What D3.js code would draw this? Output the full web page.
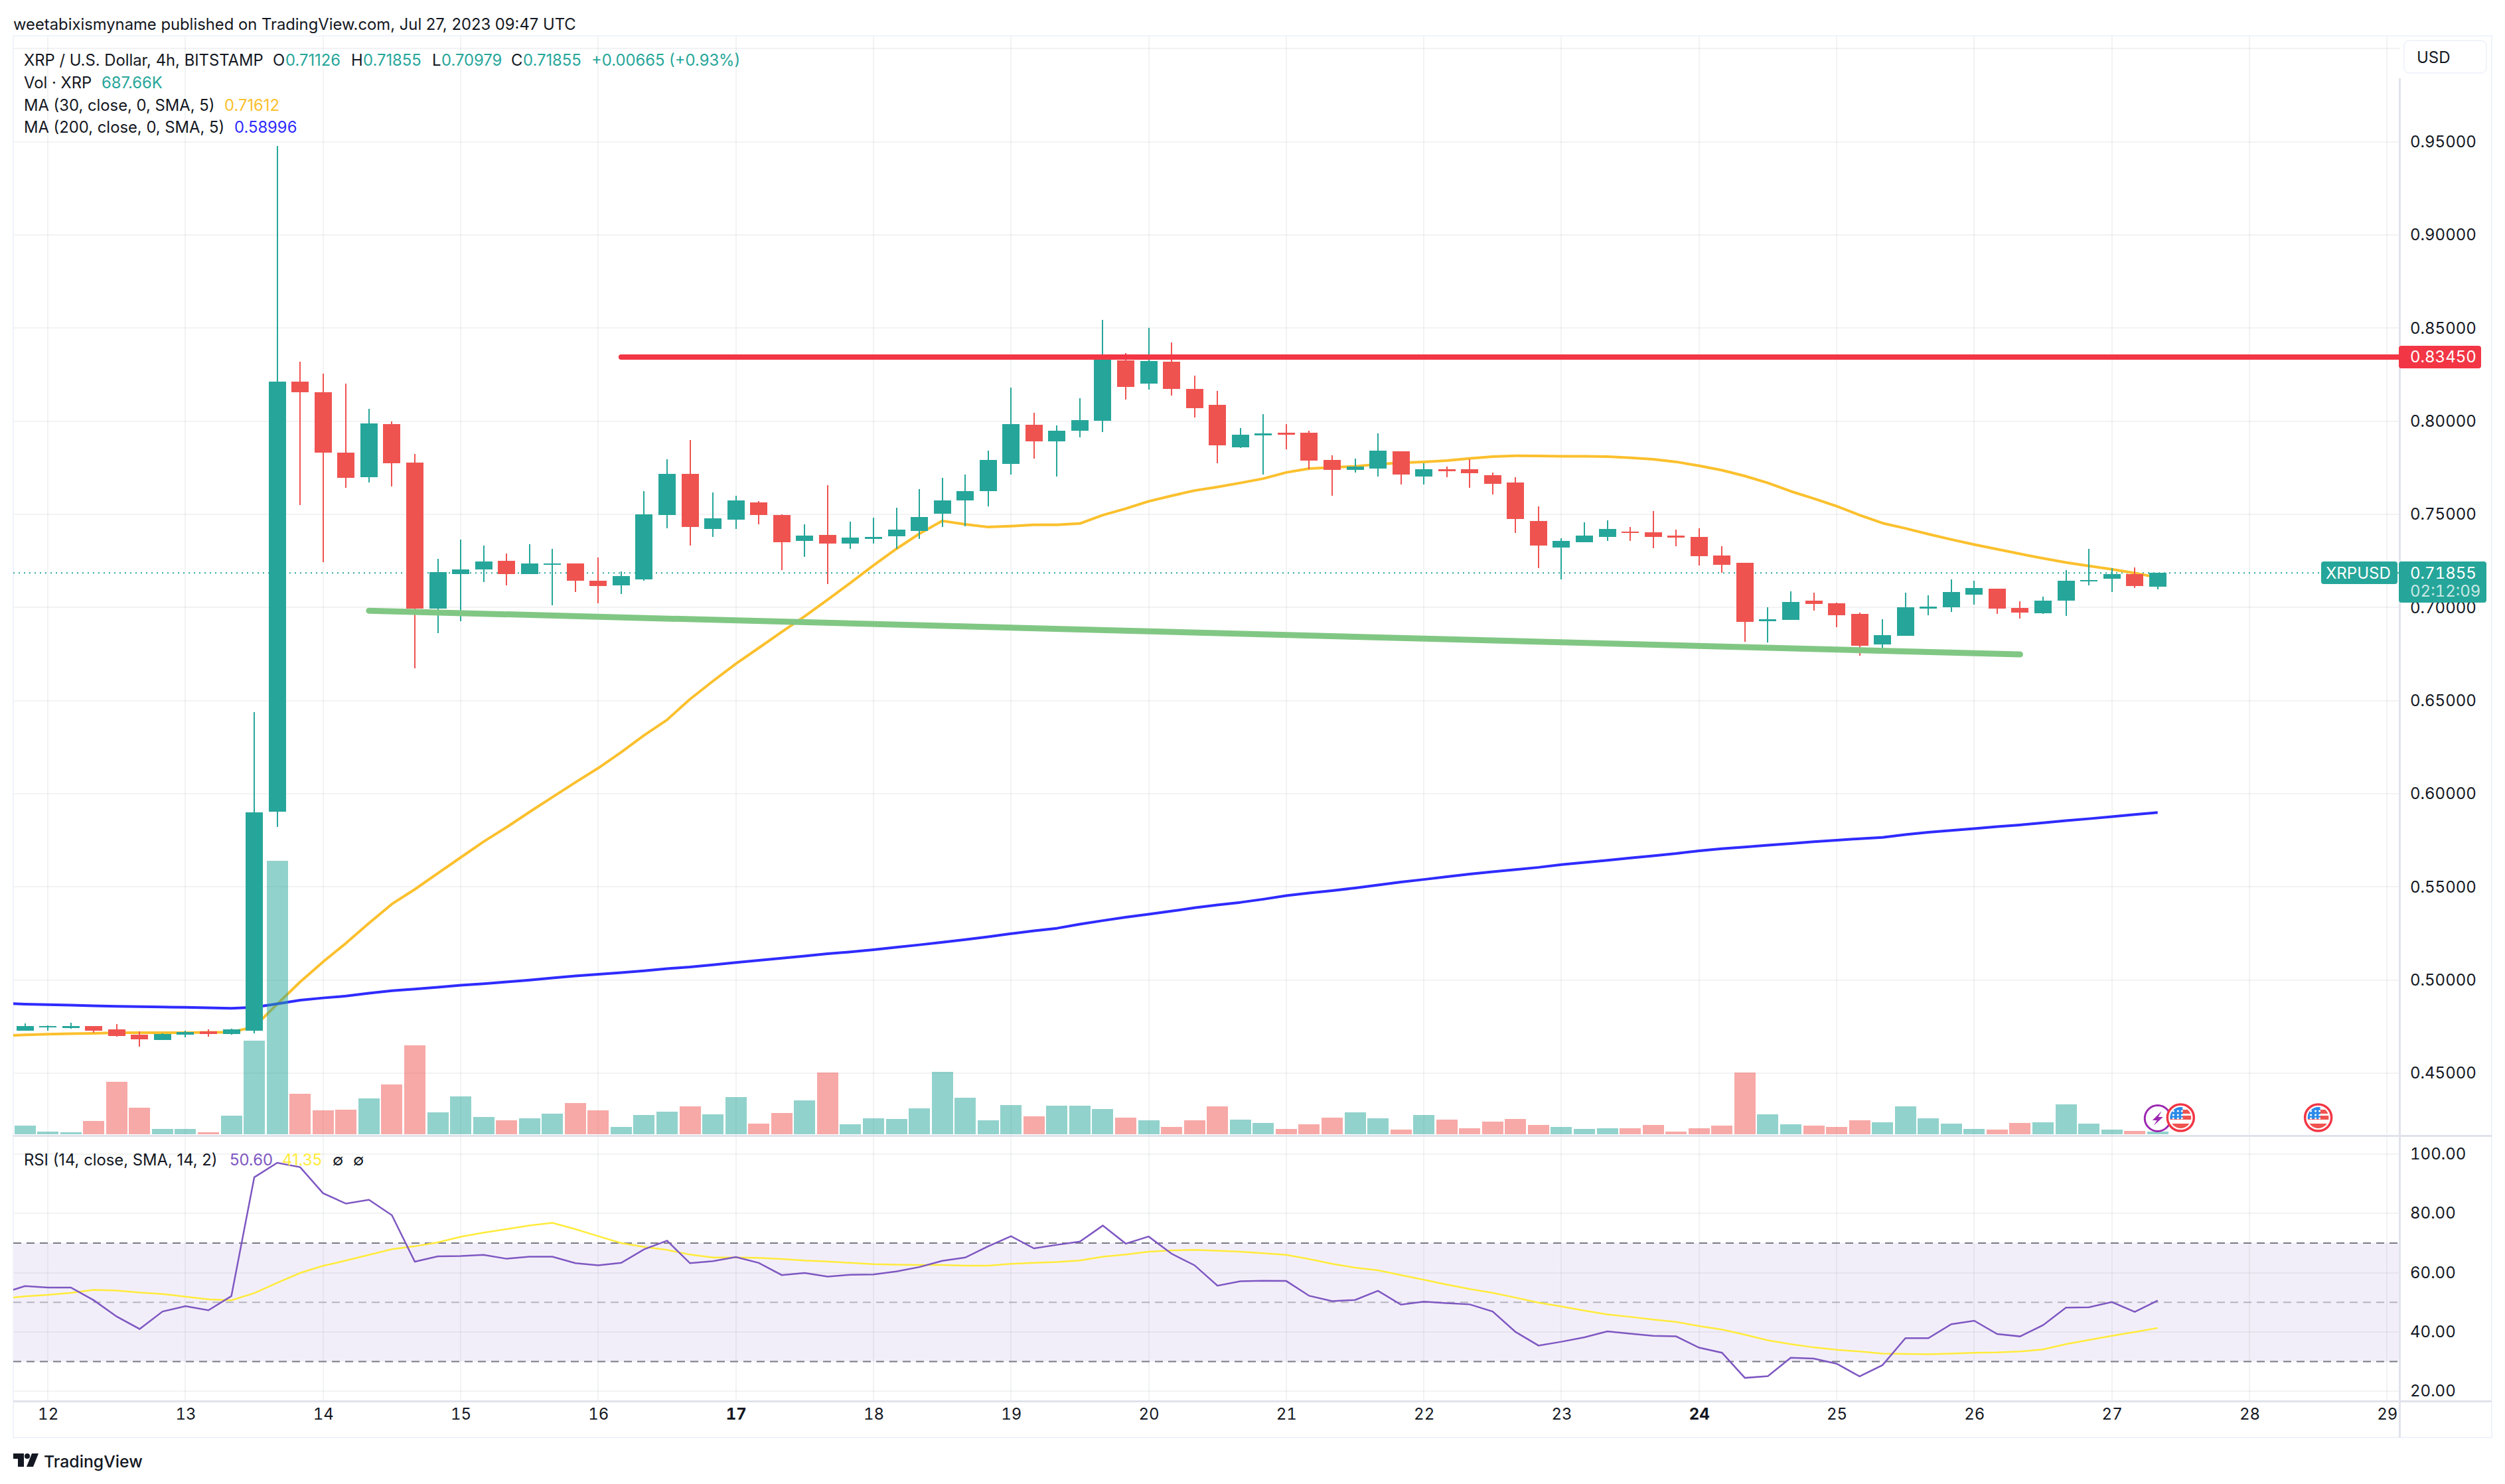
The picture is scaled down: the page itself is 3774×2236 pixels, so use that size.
<!DOCTYPE html>
<html>
<head>
<meta charset="utf-8">
<title>XRP / U.S. Dollar, 4h</title>
<script src="https://cdn.jsdelivr.net/npm/d3@7"></script>
<style>
    html, body { margin: 0; padding: 0; background: #fff; }
    svg { display: block; }
    text { font-family: Inter, "Noto Sans", sans-serif; fill: #131722; }
    .tabular, .tick text { font-variant-numeric: tabular-nums; }
</style>
</head>
<body>
<div id="chart"></div>
<script>
// 4h bars, left to right
const opens = [.4729,.4749,.4743,.4754,.4734,.4706,.4678,.4706,.4723,.4709,
    .4729,.5905,.8213,.8156,.7832,.7698,.7985,.7778,.6993,.7178,
    .7204,.7252,.7178,.7229,.7235,.7144,.7118,.7151,.7496,.7717,
    .7421,.7471,.7564,.7496,.7357,.7390,.7343,.7368,.7381,.7410,
    .7503,.7575,.7624,.7770,.7980,.7891,.7949,.8002,.8327,.8201,
    .8320,.8174,.8088,.7860,.7924,.7938,.7938,.7792,.7739,.7746,
    .7838,.7703,.7742,.7742,.7710,.7671,.7465,.7321,.7350,.7379,
    .7407,.7403,.7385,.7379,.7279,.7240,.6926,.6933,.7036,.7022,
    .6965,.6801,.6847,.6994,.7001,.7068,.7100,.6997,.6969,.7036,
    .7140,.7154,.7179,.71126];
const closes = [.4754,.4754,.4754,.4729,.4700,.4680,.4712,.4720,.4709,.4734,
    .5902,.8213,.8156,.7832,.7695,.7988,.7775,.6993,.7190,.7204,
    .7246,.7178,.7235,.7238,.7144,.7116,.7169,.7500,.7717,.7432,
    .7478,.7575,.7496,.7350,.7385,.7343,.7375,.7379,.7418,.7485,
    .7575,.7624,.7792,.7984,.7891,.7949,.8006,.8351,.8183,.8322,
    .8174,.8070,.7870,.7927,.7934,.7927,.7788,.7739,.7756,.7842,
    .7713,.7742,.7732,.7721,.7664,.7474,.7332,.7357,.7385,.7421,
    .7399,.7379,.7375,.7275,.7229,.6922,.6937,.7029,.7019,.6958,
    .6794,.6851,.7001,.7004,.7083,.7104,.6994,.6972,.7036,.7143,
    .7147,.7179,.7115,.71855];
const highs = [.4766,.4757,.4771,.4754,.4763,.4723,.4714,.4729,.4734,.4737,
    .6437,.9478,.8321,.8255,.8201,.8065,.7999,.7823,.7261,.7363,
    .7332,.7289,.7340,.7315,.7235,.7269,.7192,.7624,.7796,.7898,
    .7617,.7600,.7571,.7501,.7445,.7657,.7461,.7482,.7535,.7635,
    .7695,.7713,.7842,.8181,.8046,.7977,.8123,.8543,.8366,.8501,
    .8423,.8245,.8163,.7962,.8037,.7984,.7949,.7816,.7799,.7934,
    .7838,.7774,.7756,.7796,.7724,.7699,.7542,.7372,.7456,.7467,
    .7432,.7518,.7418,.7425,.7328,.7240,.7001,.7086,.7079,.7026,
    .6972,.6937,.7079,.7065,.7150,.7143,.7100,.7033,.7058,.7200,
    .7314,.7211,.7214,.71855];
const lows = [.4729,.4729,.4740,.4717,.4695,.4643,.4678,.4692,.4697,.4706,
    .4714,.5823,.7550,.7243,.7644,.7670,.7650,.6672,.6863,.6925,
    .7136,.7118,.7178,.7013,.7082,.7022,.7072,.7144,.7425,.7332,
    .7379,.7421,.7445,.7200,.7271,.7125,.7315,.7343,.7315,.7368,
    .7432,.7437,.7542,.7713,.7799,.7703,.7913,.7942,.8117,.8170,
    .8137,.8020,.7774,.7856,.7713,.7849,.7742,.7600,.7724,.7703,
    .7660,.7660,.7699,.7642,.7606,.7399,.7211,.7151,.7350,.7357,
    .7357,.7317,.7328,.7225,.7186,.6815,.6812,.6933,.6983,.6894,
    .6741,.6776,.6847,.6958,.6976,.7015,.6965,.6940,.6965,.6954,
    .7118,.7083,.7104,.70979];
// volume in millions of XRP
const volumes = [2.32,.69,.52,3.61,14.4,7.3,1.46,1.46,.52,5.07,
    25.8,75.4,11.2,6.5,6.8,9.9,13.7,24.5,6.0,10.4,
    4.7,3.8,4.4,5.7,8.6,6.5,2.1,5.3,6.2,7.6,
    5.5,10.2,2.9,5.8,9.3,17.0,2.7,4.4,4.2,7.1,
    17.2,10.1,3.8,8.0,4.9,7.8,7.8,7.0,4.6,3.8,
    2.1,3.8,7.6,4.0,3.1,1.46,2.7,4.6,6.0,4.4,
    1.3,5.3,4.0,1.6,3.4,4.2,2.6,2.1,1.46,1.6,
    1.6,2.6,.7,1.6,2.3,17.0,5.5,2.7,2.3,2.1,
    3.8,3.3,7.6,4.4,2.9,1.46,1.3,3.1,3.3,8.2,
    2.9,1.3,.86,.688];

// the line series start one bar earlier, left of the visible pane
const ma30 = [.4700,.4706,.4709,.4712,.4714,.4717,.4717,.4717,.4717,.4719,.4720,
    .4749,.4871,.4990,.5098,.5198,.5305,.5408,.5487,.5573,.5658,
    .5743,.5820,.5902,.5982,.6061,.6138,.6223,.6314,.6397,.6508,
    .6605,.6698,.6783,.6869,.6953,.7042,.7133,.7226,.7315,.7396,
    .7465,.7447,.7432,.7437,.7444,.7444,.7451,.7496,.7531,.7570,
    .7600,.7628,.7647,.7669,.7692,.7725,.7746,.7752,.7758,.7769,
    .7777,.7782,.7789,.7800,.7810,.7815,.7814,.7812,.7812,.7810,
    .7804,.7796,.7782,.7761,.7737,.7706,.7669,.7624,.7585,.7544,
    .7496,.7453,.7425,.7394,.7365,.7338,.7313,.7288,.7264,.7242,
    .7223,.7205,.7185,.71612];
const ma200 = [.4875,.4871,.4868,.4865,.4862,.4859,.4857,.4855,.4854,.4851,.4848,
    .4854,.4872,.4892,.4904,.4914,.4929,.4943,.4952,.4961,.4972,
    .4980,.4990,.5000,.5011,.5022,.5031,.5040,.5050,.5061,.5070,
    .5082,.5094,.5106,.5117,.5129,.5141,.5151,.5163,.5176,.5189,
    .5203,.5217,.5232,.5249,.5264,.5278,.5300,.5319,.5337,.5353,
    .5370,.5388,.5403,.5417,.5434,.5453,.5467,.5480,.5494,.5510,
    .5526,.5540,.5555,.5569,.5581,.5593,.5605,.5620,.5631,.5643,
    .5655,.5667,.5679,.5694,.5705,.5714,.5724,.5733,.5743,.5751,
    .5759,.5766,.5781,.5793,.5803,.5813,.5824,.5833,.5844,.5856,
    .5866,.5877,.5889,.58996];
const rsi = [53.0,55.5,55.0,55.0,50.7,45.2,41.0,46.9,48.7,47.3,52.1,
    92.2,97.1,95.6,86.8,83.3,84.6,79.4,63.7,65.5,65.6,
    66.0,64.7,65.4,65.4,63.2,62.5,63.3,67.9,70.8,63.2,
    63.9,65.3,63.3,59.2,59.9,58.7,59.3,59.4,60.4,61.9,
    64.0,65.1,68.9,72.3,68.2,69.4,70.5,75.9,69.8,72.2,
    66.4,62.5,55.6,57.1,57.3,57.2,52.2,50.4,50.8,53.9,
    49.2,50.2,49.7,49.3,46.9,40.0,35.4,36.7,38.2,40.2,
    39.4,38.7,38.5,34.7,33.0,24.5,25.1,31.3,31.0,29.3,
    25.0,28.8,37.9,37.9,42.6,43.8,39.3,38.5,42.3,48.2,
    48.3,50.1,46.8,50.60];
const rsiMa = [51.3,52.0,52.5,53.2,54.2,54.0,53.3,52.8,51.9,51.0,50.7,
    53.1,56.6,59.9,62.3,64.1,66.0,67.9,68.9,70.2,72.1,
    73.5,74.7,75.9,76.8,74.7,72.3,70.0,68.7,67.7,66.1,
    65.1,65.1,65.0,64.6,64.1,63.8,63.3,62.9,62.7,62.6,
    62.6,62.4,62.4,63.0,63.3,63.6,64.1,65.4,66.1,67.1,
    67.5,67.7,67.4,67.1,66.6,66.0,64.6,63.0,61.7,60.8,
    59.2,57.6,56.0,54.5,53.2,51.6,49.9,48.6,47.2,45.9,
    45.1,44.2,43.4,42.0,40.8,39.1,37.2,35.9,34.8,34.0,
    33.4,32.7,32.6,32.5,32.7,33.0,33.1,33.4,34.1,35.9,
    37.3,38.7,40.0,41.35];

const dayLabels = ['12','13','14','15','16','17','18','19','20','21','22','23','24','25','26','27','28','29'];
const boldDays = ['17','24'];
const priceTicks = [0.45,0.50,0.55,0.60,0.65,0.70,0.75,0.80,0.85,0.90,0.95];
const priceGrid = [0.45,0.50,0.55,0.60,0.65,0.70,0.75,0.80,0.85,0.90,0.95,1.00];
const rsiTicks = [20,40,60,80,100];
const lastPrice = 0.71855;
const resistanceLevel = 0.83450;
const resistanceFromBar = 26;
const supportBars = [15,87];
const supportPrices = [0.6983,0.6748];
const lightningBar = 93;
const flagBars = [94,100];

const teal = '#26a69a', red = '#ef5350', lineRed = '#f23645';

let buildChart = function() {
    let width = 3774, height = 2236;
    let frame = {left: 20, top: 54, right: 3754, bottom: 2166};
    let axisX = 3615, paneBottom = 1711, rsiBottom = 2111;

    let svg = d3.select('#chart').append('svg')
        .attr('width', width)
        .attr('height', height);

    // bar index to pixels, bar 1 is midnight on the 12th
    let x = d3.scaleLinear().domain([0, 93]).range([37.6, 3250.75]);
    let yPrice = d3.scaleLinear().domain([0.45, 1]).range([1617, 73.4]);
    let yVol = d3.scaleLinear().domain([0, 75.4]).range([1709, 1296.7]);
    let yRsi = d3.scaleLinear().domain([20, 100]).range([2096.2, 1739]);
    let dayBars = dayLabels.map((d, i) => 1 + i * 6);

    let defs = svg.append('defs');
    defs.append('clipPath').attr('id', 'price-clip').append('rect')
        .attr('x', frame.left).attr('y', frame.top)
        .attr('width', axisX - frame.left).attr('height', paneBottom - frame.top);
    defs.append('clipPath').attr('id', 'rsi-clip').append('rect')
        .attr('x', frame.left).attr('y', paneBottom)
        .attr('width', axisX - frame.left).attr('height', rsiBottom - paneBottom);

    // rsi band sits under the grid
    svg.append('rect')
        .attr('x', frame.left).attr('y', yRsi(70))
        .attr('width', axisX - frame.left).attr('height', yRsi(30) - yRsi(70))
        .attr('fill', 'rgba(126,87,194,0.1)');

    // grid
    let grid = svg.append('g').attr('stroke-width', 2).attr('shape-rendering', 'crispEdges');
    priceGrid.forEach(function(p) {
        grid.append('line').attr('x1', frame.left).attr('x2', axisX)
            .attr('y1', yPrice(p)).attr('y2', yPrice(p)).attr('stroke', '#f3f3f5');
    });
    rsiTicks.forEach(function(v) {
        grid.append('line').attr('x1', frame.left).attr('x2', axisX)
            .attr('y1', yRsi(v)).attr('y2', yRsi(v)).attr('stroke', 'rgba(42,46,57,0.06)');
    });
    dayBars.forEach(function(b) {
        grid.append('line').attr('x1', x(b)).attr('x2', x(b))
            .attr('y1', frame.top).attr('y2', rsiBottom).attr('stroke', 'rgba(42,46,57,0.06)');
    });

    // frame and pane dividers
    let frameLines = svg.append('g').attr('shape-rendering', 'crispEdges');
    frameLines.append('rect')
        .attr('x', frame.left).attr('y', frame.top)
        .attr('width', frame.right - frame.left).attr('height', frame.bottom - frame.top)
        .attr('fill', 'none').attr('stroke', '#f0f3fa').attr('stroke-width', 2);
    [paneBottom, rsiBottom].forEach(function(y) {
        frameLines.append('line').attr('x1', frame.left).attr('x2', frame.right)
            .attr('y1', y).attr('y2', y).attr('stroke', '#e0e3eb').attr('stroke-width', 3);
    });
    frameLines.append('line').attr('x1', axisX).attr('x2', axisX)
        .attr('y1', 118).attr('y2', frame.bottom).attr('stroke', '#e0e3eb').attr('stroke-width', 3);

    // rsi guides
    let rsiPane = svg.append('g').attr('clip-path', 'url(#rsi-clip)');
    [[70, 1], [50, 0.5], [30, 1]].forEach(function(d) {
        rsiPane.append('line').attr('x1', frame.left).attr('x2', axisX)
            .attr('y1', yRsi(d[0])).attr('y2', yRsi(d[0]))
            .attr('stroke', '#787b86').attr('stroke-opacity', d[1])
            .attr('stroke-width', 2).attr('stroke-dasharray', '12,8');
    });
    let rsiLine = d3.line().x((d, i) => x(i - 1)).y(d => yRsi(d));
    rsiPane.append('path').attr('d', rsiLine(rsiMa)).attr('fill', 'none')
        .attr('stroke', '#ffeb3b').attr('stroke-width', 2.5);
    rsiPane.append('path').attr('d', rsiLine(rsi)).attr('fill', 'none')
        .attr('stroke', '#7e57c2').attr('stroke-width', 2.5);

    // price pane, the moving averages run under volume and candles
    let pricePane = svg.append('g').attr('clip-path', 'url(#price-clip)');
    pricePane.append('line')
        .attr('x1', frame.left).attr('x2', axisX)
        .attr('y1', yPrice(lastPrice)).attr('y2', yPrice(lastPrice))
        .attr('stroke', teal).attr('stroke-width', 2).attr('stroke-dasharray', '2,6');

    let priceLine = d3.line().x((d, i) => x(i - 1)).y(d => yPrice(d));
    pricePane.append('path').attr('d', priceLine(ma30)).attr('fill', 'none')
        .attr('stroke', '#fbc02d').attr('stroke-width', 4).attr('stroke-linejoin', 'round');
    pricePane.append('path').attr('d', priceLine(ma200)).attr('fill', 'none')
        .attr('stroke', '#2f2bff').attr('stroke-width', 4).attr('stroke-linejoin', 'round');

    let isUp = i => closes[i] >= opens[i];

    let volBars = pricePane.append('g').attr('shape-rendering', 'crispEdges');
    volumes.forEach(function(v, i) {
        volBars.append('rect')
            .attr('x', x(i) - 16).attr('width', 32)
            .attr('y', yVol(v)).attr('height', yVol(0) - yVol(v))
            .attr('fill', isUp(i) ? teal : red).attr('fill-opacity', 0.5);
    });

    let candles = pricePane.append('g').attr('shape-rendering', 'crispEdges');
    opens.forEach(function(o, i) {
        let colour = isUp(i) ? teal : red;
        candles.append('rect')
            .attr('x', x(i) - 1).attr('width', 2)
            .attr('y', yPrice(highs[i])).attr('height', yPrice(lows[i]) - yPrice(highs[i]))
            .attr('fill', colour);
        let top = yPrice(Math.max(o, closes[i]));
        let bottom = yPrice(Math.min(o, closes[i]));
        candles.append('rect')
            .attr('x', x(i) - 13).attr('width', 26)
            .attr('y', top).attr('height', Math.max(bottom - top, 2))
            .attr('fill', colour);
    });

    // hand drawn support and resistance
    pricePane.append('line')
        .attr('x1', x(supportBars[0])).attr('x2', x(supportBars[1]))
        .attr('y1', yPrice(supportPrices[0])).attr('y2', yPrice(supportPrices[1]))
        .attr('stroke', '#81c784').attr('stroke-width', 9).attr('stroke-linecap', 'round');
    pricePane.append('line')
        .attr('x1', x(resistanceFromBar)).attr('x2', axisX + 10)
        .attr('y1', yPrice(resistanceLevel)).attr('y2', yPrice(resistanceLevel))
        .attr('stroke', lineRed).attr('stroke-width', 8).attr('stroke-linecap', 'round');

    // event markers
    let drawLightning = function(cx, cy) {
        let g = svg.append('g').attr('transform', 'translate(' + cx + ',' + cy + ')');
        g.append('circle').attr('r', 19.5).attr('fill', '#fff').attr('stroke', '#9c27b0').attr('stroke-width', 3);
        g.append('path').attr('d', 'M6,-11 L-8,3 L-1,3 L-6,11 L8,-2 L1,-2 Z').attr('fill', '#9c27b0');
    };
    let drawFlag = function(cx, cy, id) {
        let g = svg.append('g').attr('transform', 'translate(' + cx + ',' + cy + ')');
        g.append('circle').attr('r', 20).attr('fill', '#fff').attr('stroke', lineRed).attr('stroke-width', 3.5);
        let clipId = 'flag-' + id;
        defs.append('clipPath').attr('id', clipId).append('circle').attr('r', 16);
        let inner = g.append('g').attr('clip-path', 'url(#' + clipId + ')');
        inner.append('rect').attr('x', -16).attr('y', -16).attr('width', 32).attr('height', 32).attr('fill', '#fff');
        [-12, -3, 6].forEach(function(sy, k) {
            inner.append('rect').attr('x', -16).attr('y', sy + (k == 2 ? 3 : 0)).attr('width', 32)
                .attr('height', k == 2 ? 8 : 6).attr('fill', '#ef5350');
        });
        inner.append('rect').attr('x', -16).attr('y', -16).attr('width', 19).attr('height', 18).attr('fill', '#2b8be8');
        [-10, -4, 1].forEach(function(sy) {
            [-11, -4, 2].forEach(function(sx) {
                inner.append('circle').attr('cx', sx).attr('cy', sy).attr('r', 1.6).attr('fill', '#fff');
            });
        });
    };
    drawLightning(x(lightningBar), 1685);
    flagBars.forEach((b, i) => drawFlag(x(b), 1684, i));

    // axes
    let priceAxis = d3.axisRight(yPrice).tickValues(priceTicks)
        .tickFormat(d3.format('.5f')).tickSize(0).tickPadding(0);
    let rsiAxis = d3.axisRight(yRsi).tickValues(rsiTicks)
        .tickFormat(d3.format('.2f')).tickSize(0).tickPadding(0);
    let timeAxis = d3.axisBottom(x).tickValues(dayBars)
        .tickFormat((d, i) => dayLabels[i]).tickSize(0).tickPadding(0);

    [svg.append('g').attr('transform', 'translate(3631,0)').call(priceAxis),
        svg.append('g').attr('transform', 'translate(3631,0)').call(rsiAxis),
        svg.append('g').attr('transform', 'translate(0,2122)').call(timeAxis)
    ].forEach(function(axis) {
        axis.select('.domain').remove();
        axis.attr('font-family', null).attr('font-size', null);
        axis.selectAll('text').attr('font-size', 24).attr('fill', '#131722');
    });
    svg.selectAll('.tick text').filter(d => boldDays.indexOf(String((d - 1) / 6 + 12)) >= 0)
        .attr('font-weight', 700);

    // labels on the price scale
    let tag = function(x0, y0, w, h, fill, corner) {
        svg.append('rect').attr('x', x0).attr('y', y0).attr('width', w).attr('height', h)
            .attr('rx', corner).attr('fill', fill);
    };
    let write = function(x0, y0, str, colour, size, weight) {
        return svg.append('text').attr('x', x0).attr('y', y0)
            .attr('dominant-baseline', 'central')
            .attr('font-size', size || 24).attr('font-weight', weight || 400)
            .style('fill', colour || '#131722').text(str);
    };

    tag(3614, yPrice(resistanceLevel) - 17, 124, 34, lineRed, 4);
    write(3631, yPrice(resistanceLevel), d3.format('.5f')(resistanceLevel), '#fff').classed('tabular', true);

    tag(3497, 846, 115, 34, teal, 4);
    write(3504, 863, 'XRPUSD', '#fff');
    tag(3614, 846, 132, 62, teal, 4);
    write(3631, 863, d3.format('.5f')(lastPrice), '#fff').classed('tabular', true);
    write(3631, 890, '02:12:09', 'rgba(255,255,255,0.75)').classed('tabular', true);

    // currency box
    svg.append('rect').attr('x', 3622).attr('y', 61).attr('width', 124).attr('height', 49)
        .attr('rx', 8).attr('fill', '#fff').attr('stroke', '#f0f3fa').attr('stroke-width', 2);
    write(3641, 86, 'USD');

    // title and legends
    let legendSize = 23.8;
    write(20, 36, 'weetabixismyname published on TradingView.com, Jul 27, 2023 09:47 UTC', '#131722', legendSize);

    write(36, 90, 'XRP / U.S. Dollar, 4h, BITSTAMP', '#131722', legendSize);
    write(411, 90, 'O', '#131722', legendSize);
    write(430, 90, '0.71126', teal, legendSize);
    write(529, 90, 'H', '#131722', legendSize);
    write(547, 90, '0.71855', teal, legendSize);
    write(651, 90, 'L', '#131722', legendSize);
    write(665, 90, '0.70979', teal, legendSize);
    write(770, 90, 'C', '#131722', legendSize);
    write(788, 90, '0.71855', teal, legendSize);
    write(891, 90, '+0.00665 (+0.93%)', teal, legendSize);

    write(36, 124, 'Vol · XRP', '#131722', legendSize);
    write(153, 124, '687.66K', teal, legendSize);
    write(36, 158, 'MA (30, close, 0, SMA, 5)', '#131722', legendSize);
    write(338, 158, '0.71612', '#fbc02d', legendSize);
    write(36, 191, 'MA (200, close, 0, SMA, 5)', '#131722', legendSize);
    write(353, 191, '0.58996', '#2f2bff', legendSize);

    write(36, 1747, 'RSI (14, close, SMA, 14, 2)', '#131722', legendSize);
    write(346, 1747, '50.60', '#7e57c2', legendSize);
    write(425, 1747, '41.35', '#ffeb3b', legendSize);
    write(501, 1747, '∅', '#131722', legendSize);
    write(532, 1747, '∅', '#131722', legendSize);

    // TradingView mark
    let logo = svg.append('g').attr('transform', 'translate(20,2190)').attr('fill', '#131722');
    logo.append('path').attr('d', 'M0,0 H16 V20 H7 V8 H0 Z');
    logo.append('circle').attr('cx', 21).attr('cy', 4).attr('r', 4);
    logo.append('path').attr('d', 'M28,0 H38 L30,20 H20 Z');
    write(66, 2202, 'TradingView', '#131722', 24.8, 500);
};

buildChart();
</script>
</body>
</html>
